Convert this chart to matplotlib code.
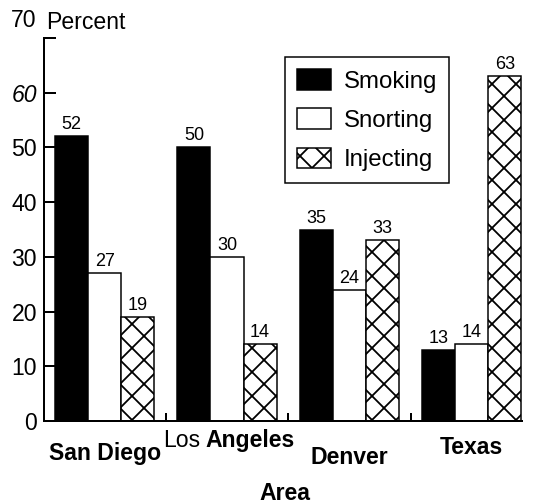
import numpy as np
import matplotlib.pyplot as plt
from matplotlib.patches import Patch

# 数据
areas = ['San Diego', 'Los Angeles', 'Denver', 'Texas']
smoking = [52, 50, 35, 13]
snorting = [27, 30, 24, 14]
injecting = [19, 14, 33, 63]
y_ticks = [0, 10, 20, 30, 40, 50, 60, 70]

plt.rcParams['font.family'] = ['Liberation Sans', 'DejaVu Sans']
plt.rcParams['hatch.linewidth'] = 1.8

fig = plt.figure(figsize=(534 / 72, 504 / 72), dpi=72)
ax = fig.add_axes([44 / 534, 1 - 421 / 504, 478 / 534, 383 / 504])

x = np.arange(len(areas))
w = 0.27
b1 = ax.bar(x - w, smoking, w, color='black', edgecolor='black', linewidth=1.5)
b2 = ax.bar(x, snorting, w, color='white', edgecolor='black', linewidth=1.5)
b3 = ax.bar(x + w, injecting, w, color='white', edgecolor='black', linewidth=1.5, hatch='x')

for b in (b1, b2, b3):
    ax.bar_label(b, padding=3, fontsize=18)

ax.set_xlim(-0.495, 3.41)
ax.set_ylim(0, 70)

# 坐标轴样式
for s in ['top', 'right']:
    ax.spines[s].set_visible(False)
for s in ['left', 'bottom']:
    ax.spines[s].set_linewidth(2)

ax.set_yticks(y_ticks)
ax.set_yticklabels([str(v) if v < 70 else '' for v in y_ticks], fontsize=23)
for lab in ax.get_yticklabels():
    if lab.get_text() == '60':
        lab.set_style('italic')
ax.tick_params(axis='y', direction='in', length=12, width=2, pad=7)
ax.set_xticks([0.5, 1.5, 2.5])
ax.set_xticklabels([])
ax.tick_params(axis='x', direction='in', length=8, width=2)

ax.text(-0.015, 1.045, '70', transform=ax.transAxes, ha='right', va='center', fontsize=23)
ax.text(0.004, 1.040, 'Percent', transform=ax.transAxes, ha='left', va='center', fontsize=23)

# 类别标签
tr = ax.get_xaxis_transform()
ax.text(0, -0.084, 'San Diego', transform=tr, ha='center', va='center', fontsize=23, fontweight='bold')
ax.text(0.78, -0.052, 'Los', transform=tr, ha='right', va='center', fontsize=23)
ax.text(0.82, -0.052, 'Angeles', transform=tr, ha='left', va='center', fontsize=23, fontweight='bold')
ax.text(2, -0.096, 'Denver', transform=tr, ha='center', va='center', fontsize=23, fontweight='bold')
ax.text(3, -0.068, 'Texas', transform=tr, ha='center', va='center', fontsize=23, fontweight='bold')
ax.text(1.47, -0.19, 'Area', transform=tr, ha='center', va='center', fontsize=23, fontweight='bold')

# 图例
handles = [Patch(facecolor='black', edgecolor='black', linewidth=1.5),
           Patch(facecolor='white', edgecolor='black', linewidth=1.5),
           Patch(facecolor='white', edgecolor='black', linewidth=1.5, hatch='x')]
leg = ax.legend(handles, ['Smoking', 'Snorting', 'Injecting'], loc='upper left',
                bbox_to_anchor=(0.504, 0.95), borderaxespad=0, fontsize=24,
                handlelength=1.4, handleheight=0.95, handletextpad=0.55,
                labelspacing=0.65, borderpad=0.5, fancybox=False, framealpha=1,
                edgecolor='black')
leg.get_frame().set_linewidth(1.5)

plt.savefig('out.png', dpi=72)
